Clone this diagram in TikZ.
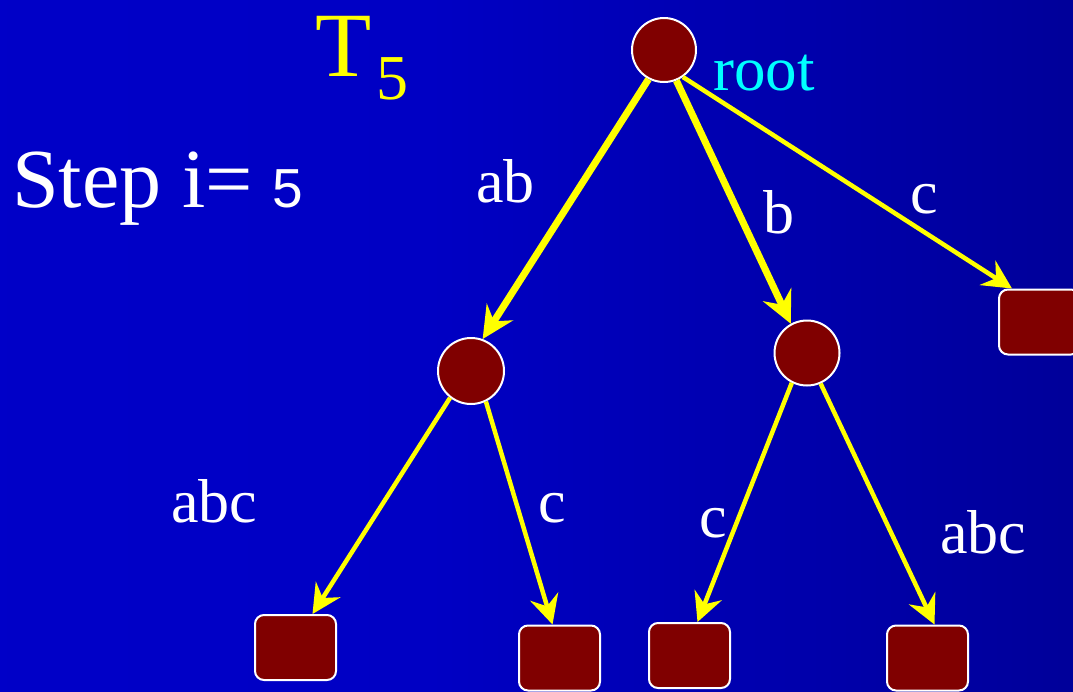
\documentclass[tikz,border=0pt]{standalone}
\usepackage{fontspec}
\setmainfont{Liberation Serif}
\newfontfamily\arialf{Liberation Sans}
\usetikzlibrary{arrows.meta}
\definecolor{bgL}{RGB}{0,0,204}
\definecolor{bgM}{RGB}{0,0,196}
\definecolor{bgR}{RGB}{0,0,118}
\definecolor{nodefill}{RGB}{128,0,0}
\definecolor{cyanlbl}{RGB}{0,255,255}
\definecolor{yel}{RGB}{255,255,0}
\pgfdeclarehorizontalshading{bgshade}{100bp}{color(0bp)=(bgL); color(45bp)=(bgM); color(100bp)=(bgR)}
\begin{document}
\begin{tikzpicture}[x=1pt,y=-1pt,
  inode/.style={circle, fill=nodefill, draw=white, line width=2pt, minimum size=#1, inner sep=0pt},
  leaf/.style={rectangle, rounded corners=9pt, fill=nodefill, draw=white, line width=2pt, minimum width=81pt, minimum height=65pt, inner sep=0pt},
  bigedge/.style={draw=yel, line width=7pt, -{Stealth[length=32pt,width=31pt,inset=11pt,fill=yel]}},
  smalledge/.style={draw=yel, line width=4.5pt, -{Stealth[length=29pt,width=29pt,inset=10pt,fill=yel]}},
  lbl/.style={text=white, anchor=base west, inner sep=0pt, font=\fontsize{62}{62}\selectfont}
]
\useasboundingbox (0,0) rectangle (1073,691);
\shade[shading=bgshade] (0,0) rectangle (1073,691);

\node[inode=64pt] (root) at (664,50) {};
\node[inode=66pt] (L) at (471,371) {};
\node[inode=65pt] (R) at (807,353) {};
\node[leaf] (TR) at (1039.5,322) {};
\node[leaf] (BL) at (295.5,647.5) {};
\node[leaf] (LR) at (559.5,658) {};
\node[leaf] (RL) at (689.5,655.5) {};
\node[leaf] (RR) at (927.5,658) {};

\draw[bigedge] (root.242) -- (L.70);
\draw[bigedge] (root.292) -- (R.119);
\draw[smalledge] (root.305) -- ([xshift=14pt]TR.north west);
\draw[smalledge] (L.232) -- ([xshift=17pt]BL.north);
\draw[smalledge] (L.296) -- ([xshift=-7pt]LR.north);
\draw[smalledge] (R.243) -- ([xshift=8pt]RL.north);
\draw[smalledge] (R.294) -- ([xshift=7pt]RR.north);

\node[anchor=base west, inner sep=0pt, text=yel, font=\fontsize{92}{92}\selectfont] (T) at (315,76) {T\kern5pt\raisebox{-23pt}{\fontsize{64}{64}\selectfont 5}};
\node[lbl, font=\fontsize{84}{84}\selectfont] (step) at (12,207) {Step i=\kern19pt{\arialf\fontsize{55}{55}\selectfont 5}};
\node[lbl, text=cyanlbl, font=\fontsize{63}{63}\selectfont] (rootlbl) at (713,90) {root};
\node[lbl] (lab1) at (476,202) {ab};
\node[lbl] (lab2) at (763,233) {b};
\node[lbl] (lab3) at (910,213) {c};
\node[lbl] (lab4) at (171,522) {abc};
\node[lbl] (lab5) at (538,522) {c};
\node[lbl] (lab6) at (699,537) {c};
\node[lbl] (lab7) at (940,553) {abc};
\end{tikzpicture}
\end{document}
